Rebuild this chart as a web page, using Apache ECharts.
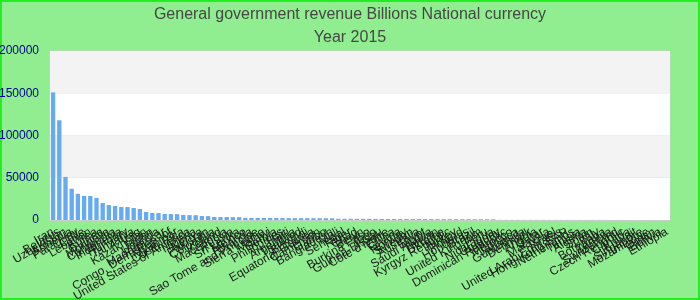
<!DOCTYPE html>
<html><head><meta charset="utf-8">
<script src="https://cdn.jsdelivr.net/npm/echarts@6/dist/echarts.min.js"></script>
<style>html,body{margin:0;padding:0;background:#90ee90}#c{width:700px;height:300px}</style>
</head><body><div id="c"></div>
<script>
const titleText = "General government revenue Billions National currency";
const subTitleText = "Year 2015";
const categories = ["Iran","Belarus","Uzbekistan","Armenia","Paraguay","Chile","Lebanon","Korea","Guinea","Mongolia",
"Cambodia","Indonesia","Hungary","Tanzania","Iraq","Kazakhstan","Japan","Uganda","Madagascar","Congo, Dem. Rep. of",
"Myanmar","Costa Rica","United States of America","Nigeria","Kenya","Pakistan","Colombia","Iceland","Macedonia","Russia",
"Sri Lanka","Mexico","Rwanda","Sao Tome and Principe","Sierra Leone","Malawi","Serbia","Philippines","Haiti","Argentina",
"Thailand","Burundi","Equatorial Guinea","Cameroon","Gabon","Bangladesh","Mali","Senegal","Niger","Chad",
"Benin","Burkina Faso","Togo","Guinea-Bissau","Côte d'Ivoire","China","Ghana","Norway","Sweden","Australia",
"Egypt","Saudi Arabia","Taiwan","Ukraine","Kyrgyz Republic","Turkey","Poland","Honduras","Brazil","United Kingdom",
"Peru","Nicaragua","Uruguay","Dominican Republic","Morocco","Jamaica","Guatemala","Denmark","Angola","Qatar",
"Malaysia","Israel","United Arab Emirates","Hong Kong SAR","Netherlands","Tunisia","Algeria","Spain","Italy","Botswana",
"Zambia","Switzerland","Czech Republic","Canada","Kuwait","Singapore","Mozambique","Oman","Bolivia","Ethiopia"];
const revenue = [151000,118000,51000,37000,31000,28500,28400,26000,20000,17700,
16600,15400,15300,14200,13000,9500,8300,8200,7100,7000,
6900,5900,5800,5700,4700,4600,3600,3500,3500,3400,
3300,2500,2450,2400,2400,2350,2300,2300,2250,2200,
2200,2150,2100,2100,2050,2000,1450,1400,1380,1350,
1300,1280,1250,1230,1200,1180,1150,1120,1100,1080,
1050,1030,1000,980,960,940,920,900,880,860,
840,820,200,190,180,170,160,150,140,130,
120,115,110,105,100,95,90,85,80,75,
70,65,60,55,50,45,40,35,30,25];
const yTicks = [0,50000,100000,150000,200000];

const chart = echarts.init(document.getElementById('c'));
chart.setOption({
  backgroundColor: '#90ee90',
  animation: false,
  title: {
    text: titleText, subtext: subTitleText, left: 'center', top: 2, itemGap: 7,
    textStyle: {color: '#464646', fontSize: 16, fontWeight: 'normal', fontFamily: 'Liberation Sans, sans-serif'},
    subtextStyle: {color: '#464646', fontSize: 16, fontFamily: 'Liberation Sans, sans-serif'}
  },
  graphic: [{type: 'rect', shape: {x: 1, y: 1, width: 698, height: 298}, style: {fill: 'none', stroke: '#22ee22', lineWidth: 2}, silent: true}],
  grid: {left: 50, right: 30, top: 51, bottom: 80, show: true, borderColor: '#cccccc', borderWidth: 1, containLabel: false, outerBoundsMode: 'none'},
  xAxis: {
    type: 'category', data: categories,
    axisLine: {lineStyle: {color: '#cccccc'}}, axisTick: {show: false},
    axisLabel: {interval: 0, rotate: 30, fontSize: 12, fontFamily: 'Liberation Sans, sans-serif', color: '#1a1a1a', margin: 11}
  },
  yAxis: {
    type: 'value', min: yTicks[0], max: yTicks[yTicks.length-1], interval: 50000,
    axisLine: {show: false}, axisTick: {show: false}, splitLine: {show: false},
    splitArea: {show: true, areaStyle: {color: ['#ffffff', '#f3f3f3']}},
    axisLabel: {color: '#00008b', fontSize: 12, fontFamily: 'Liberation Sans, sans-serif', margin: 11, formatter: function (v) { return String(v); }}
  },
  series: [{type: 'bar', data: revenue, barCategoryGap: '30%', itemStyle: {color: '#66aaf0'}}]
});
</script></body></html>
